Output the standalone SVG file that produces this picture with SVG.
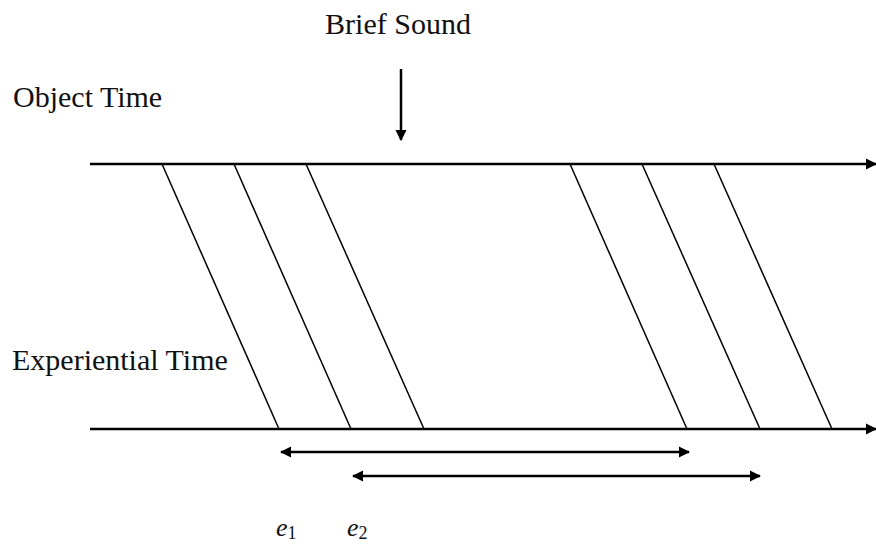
<svg xmlns="http://www.w3.org/2000/svg" width="876" height="544" viewBox="0 0 876 544">
<style>
text{font-family:"Liberation Serif","Times New Roman",serif;fill:#111;}
.lbl{font-size:30px;}
.ev{font-size:26px;font-style:italic;}
.sub{font-size:18px;font-style:normal;}
.ax{stroke:#000;stroke-width:2.5;fill:none;}
.dg{stroke:#000;stroke-width:1.5;fill:none;}
.ar{stroke:#000;stroke-width:2.5;fill:none;}
</style>
<defs>
<marker id="ah" viewBox="0 0 10 10" refX="9" refY="5" markerWidth="4.5" markerHeight="4.5" markerUnits="strokeWidth" orient="auto-start-reverse">
<path d="M0,0 L10,5 L0,10 Z" fill="#000"/>
</marker>
</defs>
<g id="labels">
<text class="lbl" x="398" y="34" text-anchor="middle">Brief Sound</text>
<text class="lbl" x="13" y="107">Object Time</text>
<text class="lbl" x="12" y="370">Experiential Time</text>
<text class="ev" x="276" y="536">e<tspan class="sub" dy="3">1</tspan></text>
<text class="ev" x="347" y="536">e<tspan class="sub" dy="3">2</tspan></text>
</g>
<g id="connectors">
<line class="ar" x1="401" y1="69" x2="401" y2="140" marker-end="url(#ah)"/>
<line class="ax" x1="90" y1="164" x2="876" y2="164" marker-end="url(#ah)"/>
<line class="ax" x1="90" y1="429" x2="876" y2="429" marker-end="url(#ah)"/>
<line class="dg" x1="162" y1="164" x2="279" y2="429"/>
<line class="dg" x1="234" y1="164" x2="351" y2="429"/>
<line class="dg" x1="306" y1="164" x2="424" y2="429"/>
<line class="dg" x1="570" y1="164" x2="687" y2="429"/>
<line class="dg" x1="642" y1="164" x2="760" y2="429"/>
<line class="dg" x1="714" y1="164" x2="832" y2="429"/>
<line class="ar" x1="281" y1="452" x2="689" y2="452" marker-start="url(#ah)" marker-end="url(#ah)"/>
<line class="ar" x1="353" y1="476" x2="760" y2="476" marker-start="url(#ah)" marker-end="url(#ah)"/>
</g>
</svg>
